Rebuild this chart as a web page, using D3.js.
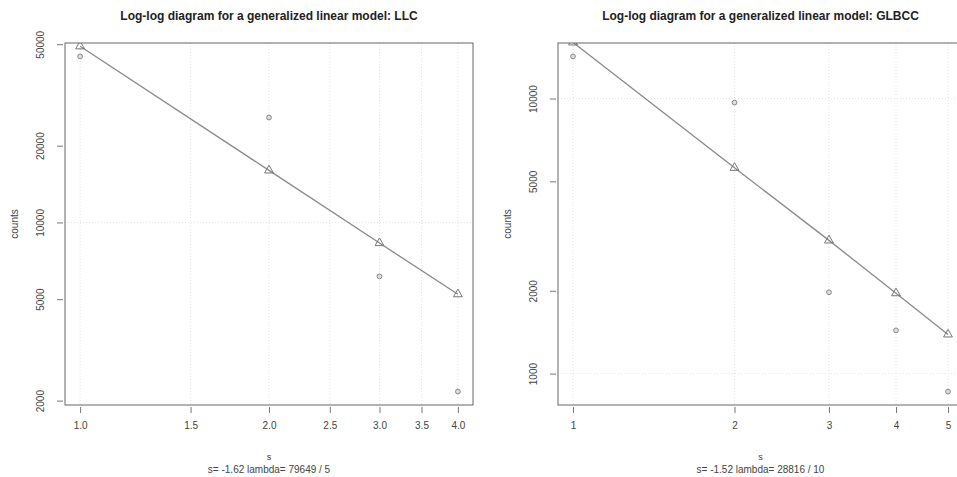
<!DOCTYPE html>
<html><head><meta charset="utf-8">
<script src="https://cdn.jsdelivr.net/npm/d3@7"></script>
<style>body{margin:0;background:#fff}svg{display:block}</style>
</head><body>
<script>
// ---- data ----
const llcK = [1, 2, 3, 4];
const llcObserved = [44800, 25800, 6140, 2170];
const llcFitted = [49100, 16000, 8300, 5230];
const llcXTicks = [1.0, 1.5, 2.0, 2.5, 3.0, 3.5, 4.0];
const llcYTicks = [2000, 5000, 10000, 20000, 50000];
const llcTitle = "Log-log diagram for a generalized linear model: LLC";
const llcSub = "s= -1.62 lambda= 79649 / 5";

const glbK = [1, 2, 3, 4, 5];
const glbObserved = [14230, 9670, 1975, 1436, 860];
const glbFitted = [16000, 5600, 3050, 1960, 1388];
const glbXTicks = [1, 2, 3, 4, 5];
const glbYTicks = [1000, 2000, 5000, 10000];
const glbTitle = "Log-log diagram for a generalized linear model: GLBCC";
const glbSub = "s= -1.52 lambda= 28816 / 10";

const W = 957, H = 477;
const svg = d3.select("body").append("svg").attr("width", W).attr("height", H)
  .style("font-family", "'Liberation Sans', Arial, sans-serif");

function padLog(ext) {
  const a = Math.log(ext[0]), b = Math.log(ext[1]), d = (b - a) * 0.04;
  return [Math.exp(a - d), Math.exp(b + d)];
}

function panel(o) {
  const {x0, x1, y0, y1, k, obs, fit, xTicks, yTicks, xFmt, title, sub, grid} = o;
  const g = svg.append("g");
  const x = d3.scaleLog().domain(padLog(d3.extent(k))).range([x0, x1]);
  const y = d3.scaleLog().domain(padLog(d3.extent(obs))).range([y1, y0]);
  const clip = "clip" + x0;
  g.append("clipPath").attr("id", clip).append("rect")
    .attr("x", x0).attr("y", y0).attr("width", x1 - x0).attr("height", y1 - y0);
  const inner = g.append("g").attr("clip-path", `url(#${clip})`);
  // grid
  inner.selectAll(".vg").data(xTicks).join("line")
    .attr("x1", d => x(d)).attr("x2", d => x(d)).attr("y1", y0).attr("y2", y1)
    .attr("stroke", "#e3e3e3").attr("stroke-dasharray", "1,2");
  inner.selectAll(".hg").data(grid).join("line")
    .attr("y1", d => y(d)).attr("y2", d => y(d)).attr("x1", x0).attr("x2", x1)
    .attr("stroke", "#e3e3e3").attr("stroke-dasharray", "1,2");
  // fitted line
  const line = d3.line().x((d, i) => x(k[i])).y(d => y(d));
  inner.append("path").datum(fit).attr("d", line).attr("fill", "none")
    .attr("stroke", "#8a8a8a").attr("stroke-width", 1.3);
  // triangles
  const tri = d3.symbol().type(d3.symbolTriangle).size(34);
  inner.selectAll(".tri").data(fit).join("path")
    .attr("d", tri).attr("transform", (d, i) => `translate(${x(k[i])},${y(d)})`)
    .attr("fill", "none").attr("stroke", "#777").attr("stroke-width", 1);
  // circles
  inner.selectAll(".pt").data(obs).join("circle")
    .attr("cx", (d, i) => x(k[i])).attr("cy", d => y(d)).attr("r", 2.4)
    .attr("fill", "#ddd").attr("stroke", "#888").attr("stroke-width", 1);
  // box
  g.append("rect").attr("x", x0).attr("y", y0).attr("width", x1 - x0).attr("height", y1 - y0)
    .attr("fill", "none").attr("stroke", "#666").attr("stroke-width", 1);
  // x axis
  const xa = g.append("g").attr("transform", `translate(0,${y1 + 2})`)
    .call(d3.axisBottom(x).tickValues(xTicks).tickFormat(xFmt).tickSize(6).tickPadding(9));
  xa.select(".domain").remove();
  xa.selectAll("line").attr("stroke", "#777");
  xa.selectAll("text").attr("fill", "#444").style("font-size", "10px");
  // y axis
  const ya = g.append("g").attr("transform", `translate(${x0 - 2},0)`)
    .call(d3.axisLeft(y).tickValues(yTicks).tickFormat(d3.format("d")).tickSize(6).tickPadding(0));
  ya.select(".domain").remove();
  ya.selectAll("line").attr("stroke", "#777");
  ya.selectAll(".tick text").attr("fill", "#444").style("font-size", "10px")
    .attr("text-anchor", "middle").attr("x", 0).attr("y", 0).attr("dy", 0)
    .attr("transform", "rotate(-90) translate(0,-19)");
  // labels
  g.append("text").attr("x", (x0 + x1) / 2).attr("y", 20).attr("text-anchor", "middle")
    .style("font-size", "12px").style("font-weight", "bold").attr("fill", "#222").text(title);
  const mx = (x0 + x1) / 2;
  g.append("text").attr("x", mx).attr("y", 460).attr("text-anchor", "middle")
    .style("font-size", "9px").attr("fill", "#444").text("s");
  g.append("text").attr("x", mx).attr("y", 473).attr("text-anchor", "middle")
    .style("font-size", "10px").attr("fill", "#444").text(sub);
  g.append("text").attr("transform", `translate(${x0 - 47},${(y0 + y1) / 2}) rotate(-90)`)
    .attr("text-anchor", "middle").style("font-size", "10px").attr("fill", "#444").text("counts");
}

panel({x0: 65, x1: 473, y0: 43, y1: 405, k: llcK, obs: llcObserved, fit: llcFitted,
  xTicks: llcXTicks, yTicks: llcYTicks, xFmt: d3.format(".1f"), title: llcTitle, sub: llcSub,
  grid: [10000]});
panel({x0: 558, x1: 963, y0: 43, y1: 405, k: glbK, obs: glbObserved, fit: glbFitted,
  xTicks: glbXTicks, yTicks: glbYTicks, xFmt: d3.format("d"), title: glbTitle, sub: glbSub,
  grid: [1000, 10000]});
</script>
</body></html>
